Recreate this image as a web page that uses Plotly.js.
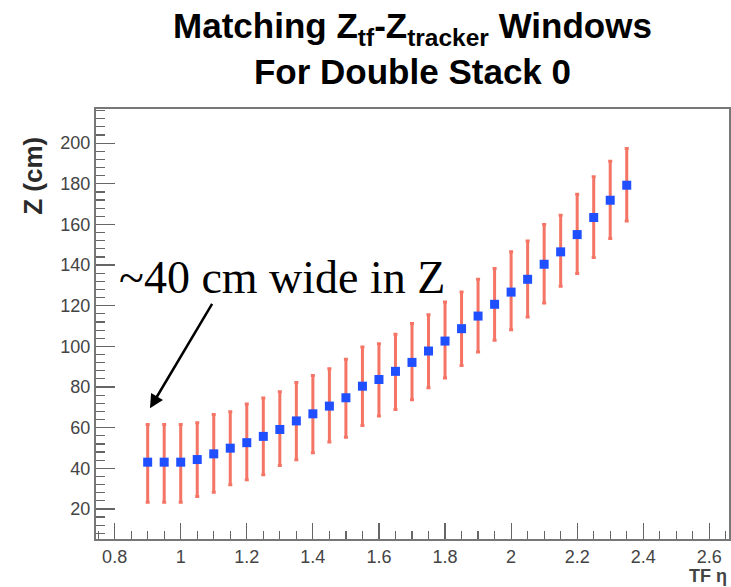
<!DOCTYPE html>
<html>
<head>
<meta charset="utf-8">
<script src="https://cdn.plot.ly/plotly-3.0.1.min.js"></script>
<style>html,body{margin:0;padding:0;background:#fff;}#chart{width:731px;height:587px;}</style>
</head>
<body>
<div id="chart"></div>
<script>
// TF eta bin centres
const eta = [0.90,0.95,1.00,1.05,1.10,1.15,1.20,1.25,1.30,1.35,1.40,1.45,1.50,1.55,1.60,
             1.65,1.70,1.75,1.80,1.85,1.90,1.95,2.00,2.05,2.10,2.15,2.20,2.25,2.30,2.35];
// Window centre in Z (cm)
const zCenter = [43.0,43.0,43.0,44.3,47.1,49.9,52.6,55.7,59.1,63.3,66.8,70.6,74.7,80.4,83.7,
                 87.7,92.1,97.7,102.6,108.7,114.9,120.7,126.7,133.0,140.4,146.5,155.0,163.4,171.9,179.3];
// Upper / lower half-widths of the window (cm)
const errPlus = [18.6,18.6,18.6,18.1,19.4,17.9,19.0,18.9,18.6,18.9,18.9,18.4,18.9,19.3,17.6,
                 18.2,19.1,17.9,19.2,18.0,18.1,17.6,19.8,18.9,19.6,18.0,19.9,20.0,19.2,18.1];
const errMinus = [19.7,19.7,19.7,18.2,18.9,18.0,18.3,18.9,17.7,19.1,19.2,17.7,19.4,19.3,18.0,
                  18.8,18.4,18.1,18.2,18.1,17.7,17.7,18.5,18.6,19.1,16.9,19.2,19.7,18.8,17.6];

const titleText = 'Matching Z<sub>tf</sub>-Z<sub>tracker</sub> Windows<br>For Double Stack 0';
const yTitle = 'Z (cm)';
const xTitle = 'TF η';
const noteText = '~40 cm wide in Z';

const trace = {
  x: eta, y: zCenter, type: 'scatter', mode: 'markers',
  marker: {symbol: 'square', size: 9, color: '#1f4fff'},
  error_y: {type: 'data', symmetric: false, array: errPlus, arrayminus: errMinus,
            color: 'rgba(240,70,50,0.75)', thickness: 3, width: 2},
  showlegend: false, hoverinfo: 'x+y'
};

const tickFont = {family: 'Liberation Sans, Arial, sans-serif', size: 18, color: '#444'};

const layout = {
  width: 731, height: 587,
  margin: {l: 96, r: 2, t: 109, b: 48, pad: 0},
  paper_bgcolor: '#fff', plot_bgcolor: '#fff',
  showlegend: false,
  title: {
    text: titleText,
    font: {family: 'Liberation Sans, Arial, sans-serif', size: 35, color: '#000', weight: 'bold'},
    xref: 'paper', x: 0.5, xanchor: 'center',
    yref: 'container', y: 0.935, yanchor: 'top'
  },
  xaxis: {
    range: [0.7436, 2.6595], tick0: 0.8, dtick: 0.2,
    ticks: 'inside', ticklen: 16, tickwidth: 1.2, tickcolor: '#666',
    minor: {dtick: 0.05, ticks: 'inside', ticklen: 8, tickwidth: 1.2, tickcolor: '#666', showgrid: false},
    showline: true, linecolor: '#777', linewidth: 2, mirror: true,
    showgrid: false, zeroline: false, tickfont: tickFont
  },
  yaxis: {
    range: [5.2, 216.8], tick0: 0, dtick: 20,
    ticks: 'inside', ticklen: 19, tickwidth: 1.2, tickcolor: '#666',
    minor: {dtick: 4, ticks: 'inside', ticklen: 9, tickwidth: 1.2, tickcolor: '#666', showgrid: false},
    showline: true, linecolor: '#777', linewidth: 2, mirror: true,
    showgrid: false, zeroline: false, tickfont: tickFont
  },
  annotations: [
    {text: yTitle, xref: 'paper', yref: 'paper', x: -0.1, y: 0.844, textangle: -90,
     xanchor: 'center', yanchor: 'middle', showarrow: false,
     font: {family: 'Liberation Sans, Arial, sans-serif', size: 26, color: '#2a2a2a', weight: 'bold'}},
    {text: xTitle, xref: 'paper', yref: 'paper', x: 1.0, y: -0.058, xanchor: 'right', yanchor: 'top',
     showarrow: false,
     font: {family: 'Liberation Sans, Arial, sans-serif', size: 18, color: '#444', weight: 'bold'}},
    {text: noteText, xref: 'x', yref: 'y', x: 0.807, y: 134, xanchor: 'left', yanchor: 'middle',
     showarrow: false, font: {family: 'Liberation Serif, Times New Roman, serif', size: 46, color: '#000'}},
    {text: '', xref: 'x', yref: 'y', x: 0.907, y: 69.5, ax: 63, ay: -106, axref: 'pixel', ayref: 'pixel',
     showarrow: true, arrowhead: 2, arrowsize: 1.1, arrowwidth: 2.5, arrowcolor: '#000'}
  ]
};

Plotly.newPlot('chart', [trace], layout, {displayModeBar: false, staticPlot: true});
</script>
</body>
</html>
